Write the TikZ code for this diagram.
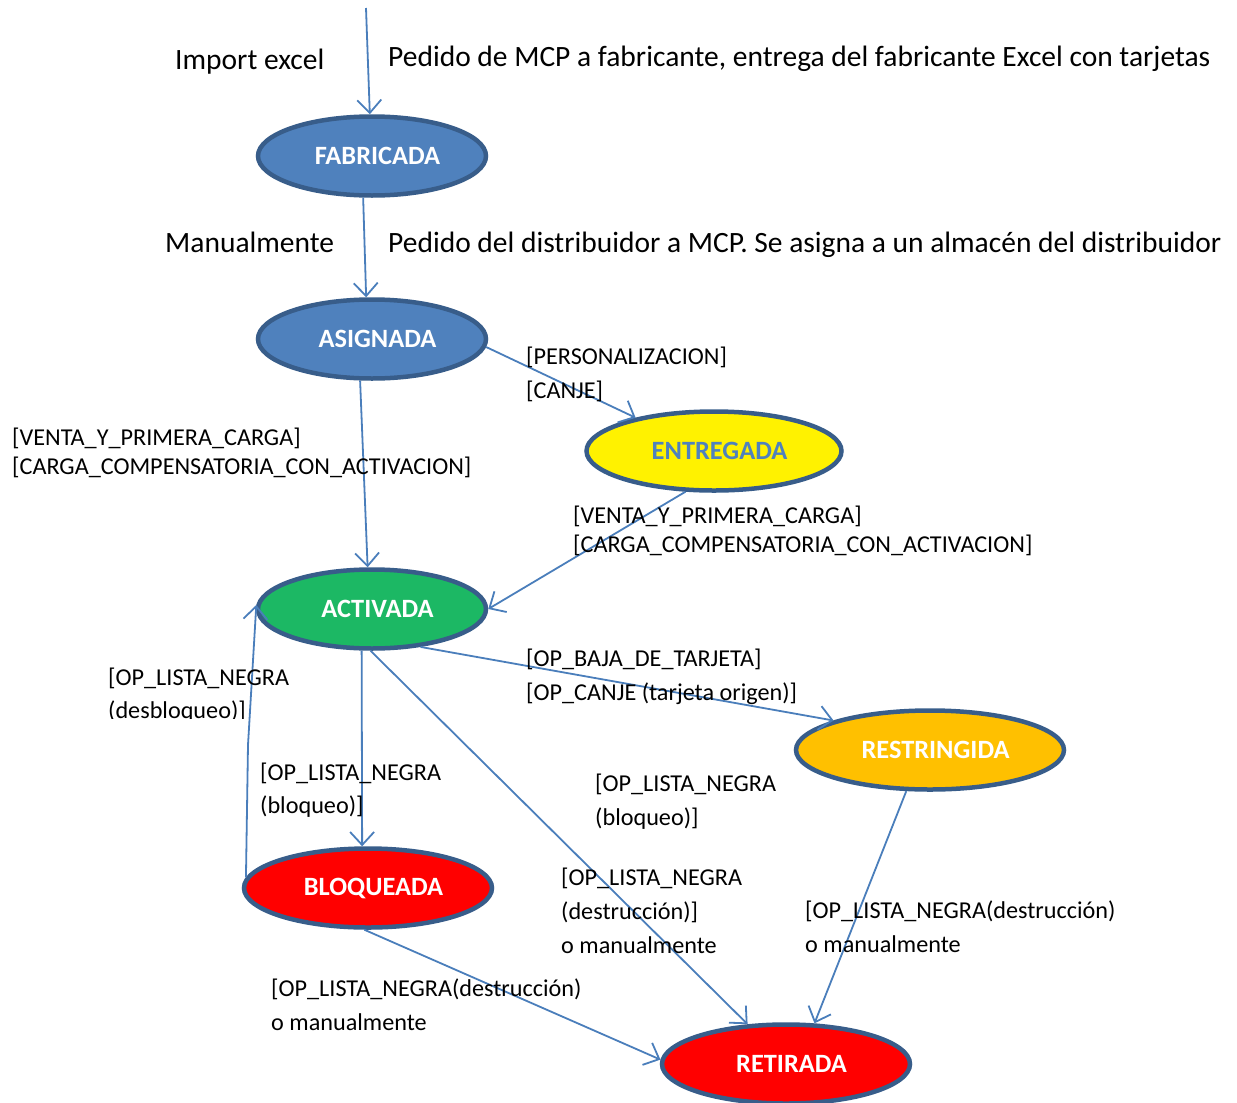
\documentclass[tikz,border=0pt]{standalone}
\usepackage{fontspec}
\setmainfont{Carlito}
\usetikzlibrary{arrows.meta,shapes.geometric}
\definecolor{nodeblue}{HTML}{4F81BD}
\definecolor{rimblue}{HTML}{385D8A}
\definecolor{stategreen}{HTML}{1CB864}
\definecolor{stateorange}{HTML}{FFC000}
\definecolor{arrowblue}{HTML}{4A7EBB}
\newcommand{\stxt}[1]{\hspace*{11bp}#1}
\begin{document}
\begin{tikzpicture}[x=1bp,y=-1bp,
  state/.style={ellipse, draw=rimblue, line width=4.5bp, inner sep=0pt,
    minimum width=228bp, minimum height=79bp,
    font=\fontsize{26.5}{30}\selectfont\bfseries, text=white},
  flow/.style={draw=arrowblue, line width=1.8bp, -{Straight Barb[length=13bp,width=24bp]}},
  lbl/.style={inner sep=0pt, anchor=north west, align=left, font=\fontsize{24.3}{34}\selectfont},
  toplbl/.style={inner sep=0pt, anchor=mid west, font=\fontsize{29.6}{34}\selectfont}]
\useasboundingbox (0,0) rectangle (1237,1103);

% states
\node[state, fill=nodeblue] (fab) at (372,156) {\stxt{FABRICADA}};
\node[state, fill=nodeblue] (asig) at (372,339) {\stxt{ASIGNADA}};
\node[state, fill=yellow, text=nodeblue, minimum width=255bp] (entr) at (714,451) {\stxt{ENTREGADA}};
\node[state, fill=stategreen] (activ) at (372,609) {\stxt{ACTIVADA}};
\node[state, fill=stateorange, minimum width=268bp] (restr) at (930,750) {\stxt{RESTRINGIDA}};
\node[state, fill=red, minimum width=248bp] (bloq) at (368,888) {\stxt{BLOQUEADA}};
\node[state, fill=red, minimum width=248bp] (retir) at (786,1064) {\stxt{RETIRADA}};

% connectors
\coordinate (src) at (366,8);
\coordinate (bend) at (248,745);
\draw[flow] (src) -- (fab.93);
\draw[flow] (fab.258) -- (asig.98);
\draw[flow] (asig.356) -- (entr.157);
\draw[flow] (asig.254) -- (activ.96);
\draw[flow] (entr.235) -- (activ.east);
\draw[flow] (activ.322) -- (restr.163);
\draw[flow] (activ.256) -- (bloq.98);
\draw[flow] (activ.268) -- (retir.134);
\draw[flow] (bloq.175) -- (bend) -- (activ.178);
\draw[flow] (restr.240) -- (retir.55);
\draw[flow] (bloq.265) -- (retir.178);

% labels
\node[toplbl] (t1) at (175,67) {Import excel};
\node[toplbl] (t2) at (388,64) {Pedido de MCP a fabricante, entrega del fabricante Excel con tarjetas};
\node[toplbl] (t3) at (165,250) {Manualmente};
\node[toplbl] (t4) at (388,250) {Pedido del distribuidor a MCP. Se asigna a un almacén del distribuidor};

\node[lbl] (l1) at (526,347) {[PERSONALIZACION]\\{}[CANJE]};
\node[lbl, font=\fontsize{24.3}{29}\selectfont] (l2) at (12,428) {[VENTA\_Y\_PRIMERA\_CARGA]\\{}[CARGA\_COMPENSATORIA\_CON\_ACTIVACION]};
\node[lbl, font=\fontsize{24.3}{29}\selectfont] (l3) at (573,506) {[VENTA\_Y\_PRIMERA\_CARGA]\\{}[CARGA\_COMPENSATORIA\_CON\_ACTIVACION]};
\begin{scope}
  \clip (100,650) rectangle (290,718);
  \node[lbl, font=\fontsize{24.3}{33}\selectfont] (l4) at (108,668) {[OP\_LISTA\_NEGRA\\(desbloqueo)]};
\end{scope}
\node[lbl] (l5) at (526,649) {[OP\_BAJA\_DE\_TARJETA]\\{}[OP\_CANJE (tarjeta origen)]};
\node[lbl, font=\fontsize{24.3}{33}\selectfont] (l6) at (260,763) {[OP\_LISTA\_NEGRA\\(bloqueo)]};
\node[lbl] (l7) at (595,774) {[OP\_LISTA\_NEGRA\\(bloqueo)]};
\node[lbl] (l8) at (561,868) {[OP\_LISTA\_NEGRA\\(destrucción)]\\o manualmente};
\node[lbl] (l9) at (805,901) {[OP\_LISTA\_NEGRA(destrucción)\\o manualmente};
\node[lbl] (l10) at (271,979) {[OP\_LISTA\_NEGRA(destrucción)\\o manualmente};
\end{tikzpicture}
\end{document}
